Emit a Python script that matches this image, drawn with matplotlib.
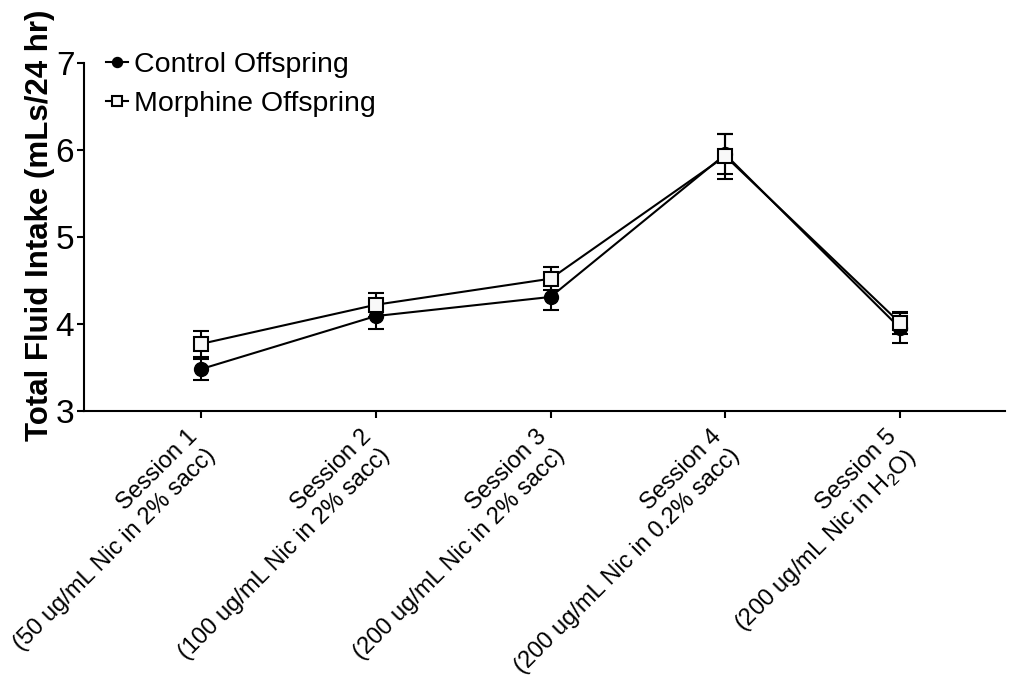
import numpy as np
import matplotlib.pyplot as plt
import matplotlib.transforms as mtransforms

plt.rcParams['font.family'] = ['Liberation Sans', 'DejaVu Sans']
plt.rcParams['mathtext.fontset'] = 'custom'
plt.rcParams['mathtext.rm'] = 'Liberation Sans'

# ======================================================================
# Data: total fluid intake per session (mean +/- SEM)
# ======================================================================
sessions = ['Session 1\n(50 ug/mL Nic in 2% sacc)',
            'Session 2\n(100 ug/mL Nic in 2% sacc)',
            'Session 3\n(200 ug/mL Nic in 2% sacc)',
            'Session 4\n(200 ug/mL Nic in 0.2% sacc)',
            'Session 5\n(200 ug/mL Nic in H$_2$O)']

control_mean = [3.48, 4.09, 4.31, 5.95, 3.95]
control_sem = [0.12, 0.15, 0.15, 0.23, 0.17]

morphine_mean = [3.77, 4.22, 4.52, 5.93, 4.01]
morphine_sem = [0.15, 0.14, 0.13, 0.26, 0.13]

# ======================================================================
# Plot
# ======================================================================
fig = plt.figure(figsize=(10.12, 6.79), dpi=100)
ax = fig.add_axes([0.083, 0.395, 0.910, 0.512])

x = np.arange(len(sessions))

# Error bars first, then the lines with markers on top
ax.errorbar(x, control_mean, yerr=control_sem, fmt='none', ecolor='black',
            elinewidth=1.5, capsize=6, capthick=1.5, zorder=1)
ax.plot(x, control_mean, color='black', linewidth=1.5, marker='o', markersize=10,
        markerfacecolor='black', markeredgecolor='black', label='Control Offspring',
        zorder=2)
ax.errorbar(x, morphine_mean, yerr=morphine_sem, fmt='none', ecolor='black',
            elinewidth=1.5, capsize=6, capthick=1.5, zorder=3)
ax.plot(x, morphine_mean, color='black', linewidth=1.5, marker='s', markersize=10.5,
        markerfacecolor='#f8f8f8', markeredgecolor='black', markeredgewidth=1.5,
        label='Morphine Offspring', zorder=4)

ax.set_xlim(-0.67, 4.6)
ax.set_ylim(3, 7)
ax.set_yticks([3, 4, 5, 6, 7])
ax.set_xticks(x)
ax.set_xticklabels(sessions, rotation=45, ha='right', va='top',
                   rotation_mode='anchor', fontsize=17, multialignment='right')
ax.tick_params(axis='y', labelsize=24, width=1.5, length=5, pad=2)
ax.tick_params(axis='x', width=1.5, length=5, pad=6)

# nudge the rotated session labels a bit to the left
shift = mtransforms.ScaledTranslation(-15 / 100, 0, fig.dpi_scale_trans)
for lbl in ax.get_xticklabels():
    lbl.set_transform(lbl.get_transform() + shift)

for side in ['top', 'right']:
    ax.spines[side].set_visible(False)
for side in ['left', 'bottom']:
    ax.spines[side].set_linewidth(1.5)

ax.set_ylabel('Total Fluid Intake (mLs/24 hr)', fontsize=22.5, fontweight='bold')
ax.yaxis.set_label_coords(-0.031, 0.534)

leg = ax.legend(loc='upper left', bbox_to_anchor=(0.005, 1.08), frameon=False,
                fontsize=20.5, handlelength=0.8, handletextpad=0.2,
                labelspacing=0.44, borderaxespad=0.2, markerscale=0.72)

fig.savefig('out.png', dpi=100)
